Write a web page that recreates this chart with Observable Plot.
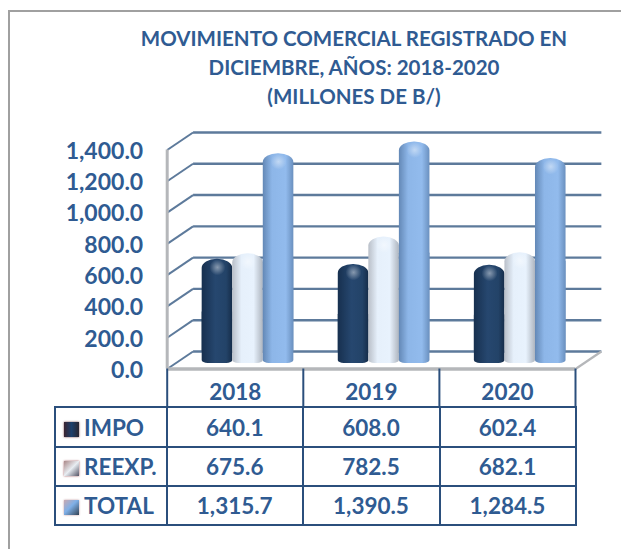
<!DOCTYPE html>
<html><head><meta charset="utf-8">
<script src="https://cdn.jsdelivr.net/npm/d3@7"></script>
<script src="https://cdn.jsdelivr.net/npm/@observablehq/plot@0.6"></script>
<style>
html,body{margin:0;padding:0;background:#fff;}
#page{position:relative;width:621px;height:549px;overflow:hidden;font-family:Lato,sans-serif;font-weight:700;color:#2f5b92;}
#frame{position:absolute;left:8px;top:10px;width:640px;height:600px;border:2px solid #a0a0a0;box-sizing:border-box;}
#title{position:absolute;left:54px;width:600px;top:23.5px;text-align:center;font-size:20.5px;line-height:29.3px;}
#chart{position:absolute;left:0;top:120px;}
#chart svg{overflow:visible;background:transparent;}
#tbl{position:absolute;left:54px;top:406px;border-collapse:collapse;table-layout:fixed;font-size:22.5px;}
#tbl td{border:2px solid #2b4f7c;padding:0;text-align:center;white-space:nowrap;}
#tbl td.lab{text-align:left;padding-left:8px;}
.key{display:inline-block;width:15px;height:15px;margin-right:5px;vertical-align:-1px;filter:blur(.7px);}
</style></head>
<body>
<div id="page">
<div id="frame"></div>
<div id="title"></div>
<div id="chart"></div>
<table id="tbl"></table>
</div>
<svg width="0" height="0" style="position:absolute">
<defs>
<linearGradient id="cyl0" x1="0" x2="1" y1="0" y2="0"><stop offset="0" stop-color="#17304f"/><stop offset=".45" stop-color="#26476f"/><stop offset=".8" stop-color="#234368"/><stop offset="1" stop-color="#162d4a"/></linearGradient>
<linearGradient id="cyl1" x1="0" x2="1" y1="0" y2="0"><stop offset="0" stop-color="#b9bfc8"/><stop offset=".3" stop-color="#e6f0fb"/><stop offset=".7" stop-color="#e8f2fd"/><stop offset="1" stop-color="#aeb5bf"/></linearGradient>
<linearGradient id="cyl2" x1="0" x2="1" y1="0" y2="0"><stop offset="0" stop-color="#6388b6"/><stop offset=".3" stop-color="#8db6e8"/><stop offset=".75" stop-color="#92bbed"/><stop offset="1" stop-color="#6a90bf"/></linearGradient>
<radialGradient id="glow"><stop offset="0" stop-color="#fff" stop-opacity=".45"/><stop offset="1" stop-color="#fff" stop-opacity="0"/></radialGradient>
</defs>
</svg>
<script>
const titleLines = ["MOVIMIENTO COMERCIAL REGISTRADO EN", "DICIEMBRE, AÑOS: 2018-2020", "(MILLONES DE B/)"];
const years = ["2018", "2019", "2020"];
const seriesNames = ["IMPO", "REEXP.", "TOTAL"];
const impo = [640.1, 608.0, 602.4];
const reexp = [675.6, 782.5, 682.1];
const total = [1315.7, 1390.5, 1284.5];
const yTicks = [0, 200, 400, 600, 800, 1000, 1200, 1400];
const valueLabels = {"IMPO": ["640.1","608.0","602.4"], "REEXP.": ["675.6","782.5","682.1"], "TOTAL": ["1,315.7","1,390.5","1,284.5"]};
const keyStyles = [
  "background:linear-gradient(90deg,#3a2430,#1d3f6b 50%,#2a2530);box-shadow:0 0 2px #7a4a50",
  "background:linear-gradient(135deg,#a88,#e8edf2 50%,#556);box-shadow:0 0 2px #a05a60",
  "background:linear-gradient(135deg,#c9a9b0,#7fb0e8 45%,#345);box-shadow:0 0 2px #c09aa0"
];

// depth of the 3-D box, in data units
const depthX = 0.19, depthY = 112;
const groupStart = 0.257, barW = 0.2245;
const ink = "#2f5b92", gridInk = "#5d7a9b", floorInk = "#b5b7ba", rowInk = "#2b4f7c";

const rows = [impo, reexp, total].flatMap((vals, s) => vals.map((v, i) => ({
  year: years[i], series: seriesNames[s], s, value: v,
  x1: i + groupStart + s * barW, x2: i + groupStart + (s + 1) * barW
})));

const dividers = [0, 1, 2, 3];
const soft = "blur(0.5px)";

const plot = Plot.plot({
  width: 621, height: 287,
  marginLeft: 166.7, marginRight: 46, marginTop: 30, marginBottom: 38.5,
  x: {type: "linear", domain: [0, 3], range: [166.7, 575]},
  y: {type: "linear", domain: [0, 1400], range: [248.5, 29.5]},
  style: {background: "transparent", overflow: "visible"},
  marks: [
    // back wall gridlines
    Plot.link(yTicks, {x1: depthX, x2: 3 + depthX, y1: d => d + depthY, y2: d => d + depthY, stroke: gridInk, strokeWidth: 2.4, imageFilter: soft}),
    // left wall perspective lines
    Plot.link(yTicks, {x1: 0, x2: depthX, y1: d => d, y2: d => d + depthY, stroke: gridInk, strokeWidth: 2, imageFilter: soft}),
    // left wall edge and floor edges
    Plot.ruleX([0], {y1: 0, y2: 1400, stroke: floorInk, strokeWidth: 3, imageFilter: soft}),
    Plot.link([0], {x1: 3, x2: 3 + depthX, y1: 0, y2: depthY, stroke: floorInk, strokeWidth: 2.2, imageFilter: soft}),
    Plot.ruleY([0], {x1: 0, x2: 3, stroke: floorInk, strokeWidth: 3.5, imageFilter: soft}),
    // cylinders: rounded dome plus a flatter lower half
    Plot.rect(rows, {x1: "x1", x2: "x2", y1: 0, y2: "value", dy: -9.5, rx: 15, ry: 9,
      fill: d => `url(#cyl${d.s})`, imageFilter: "blur(0.6px)"}),
    Plot.rect(rows, {x1: "x1", x2: "x2", y1: 0, y2: d => d.value / 2, dy: -9.5, insetBottom: -4, rx: 6, ry: 3,
      fill: d => `url(#cyl${d.s})`, imageFilter: "blur(0.6px)"}),
    Plot.dot(rows, {x: d => (d.x1 + d.x2) / 2, y: "value", dy: -1.5, r: 8, fill: "url(#glow)"}),
    // dividers of the header row
    Plot.ruleX(dividers, {y1: 0, y2: -242, stroke: rowInk, strokeWidth: 2}),
    Plot.axisY({ticks: yTicks, tickSize: 0, tickPadding: 24, dy: 1.5, tickFormat: d3.format(",.1f"), fontSize: 23, fontWeight: 700, fill: ink, label: null}),
    Plot.axisX({ticks: [0.5, 1.5, 2.5], tickSize: 0, tickPadding: 15, tickFormat: (d, i) => years[i], fontSize: 22.5, fontWeight: 700, fill: ink, label: null})
  ]
});
plot.style.fontFamily = "Lato, sans-serif";
document.getElementById("chart").append(plot);

document.getElementById("title").innerHTML = titleLines.join("<br>");
const widths = [112, 135.5, 137, 136], heights = [40, 38.5, 39];
const tbl = document.getElementById("tbl");
tbl.style.width = widths.reduce((a, b) => a + b) + "px";
tbl.innerHTML = `<colgroup>${widths.map(w => `<col style="width:${w}px">`).join("")}</colgroup>` +
  seriesNames.map((n, r) => `<tr style="height:${heights[r]}px"><td class="lab"><span class="key" style="${keyStyles[r]}"></span>${n}</td>${valueLabels[n].map(v => `<td>${v}</td>`).join("")}</tr>`).join("");
</script>
</body></html>
